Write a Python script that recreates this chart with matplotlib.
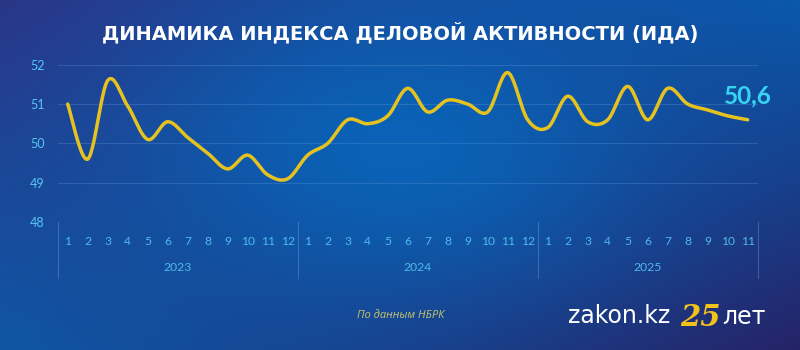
import numpy as np
import matplotlib
matplotlib.use("Agg")
import matplotlib.pyplot as plt

# ---------------- data ----------------
years = ["2023", "2024", "2025"]
months_per_year = [12, 12, 11]
month_labels = [str(m) for m in range(1, 13)] + [str(m) for m in range(1, 13)] + [str(m) for m in range(1, 12)]
ida_2023 = [51.0, 49.6, 51.6, 50.95, 50.1, 50.55, 50.15, 49.75, 49.35, 49.7, 49.2, 49.1]
ida_2024 = [49.7, 50.0, 50.6, 50.5, 50.7, 51.4, 50.8, 51.1, 51.0, 50.8, 51.8, 50.6]
ida_2025 = [50.4, 51.2, 50.55, 50.6, 51.45, 50.6, 51.4, 51.0, 50.85, 50.7, 50.6]
last_label = "50,6"
y_ticks = [48, 49, 50, 51, 52]
title = "ДИНАМИКА ИНДЕКСА ДЕЛОВОЙ АКТИВНОСТИ (ИДА)"
source = "По данным НБРК"

values = np.array(ida_2023 + ida_2024 + ida_2025, dtype=float)
xpos = np.arange(1, len(values) + 1, dtype=float)


def catmull_rom(x, y, n=24):
    px = np.concatenate([[x[0]], x, [x[-1]]])
    py = np.concatenate([[y[0]], y, [y[-1]]])
    xs, ys = [], []
    t = np.linspace(0, 1, n, endpoint=False)
    for i in range(1, len(px) - 2):
        for arr, out in ((px, xs), (py, ys)):
            p0, p1, p2, p3 = arr[i - 1], arr[i], arr[i + 1], arr[i + 2]
            m1 = (p2 - p0) / 2.0
            m2 = (p3 - p1) / 2.0
            h00 = 2 * t**3 - 3 * t**2 + 1
            h10 = t**3 - 2 * t**2 + t
            h01 = -2 * t**3 + 3 * t**2
            h11 = t**3 - t**2
            out.append(h00 * p1 + h10 * m1 + h01 * p2 + h11 * m2)
    xs.append([x[-1]])
    ys.append([y[-1]])
    return np.concatenate(xs), np.concatenate(ys)


W, H = 800, 350
fig = plt.figure(figsize=(W / 100, H / 100), dpi=100)

# ---------------- background gradient ----------------
bg = fig.add_axes([0, 0, 1, 1], zorder=-10)
gx, gy = np.meshgrid(np.linspace(0, 1, 400), np.linspace(0, 1, 175))
def c(h):
    return np.array([int(h[i:i + 2], 16) / 255 for i in (1, 3, 5)])
TL, TR, BL, BR = c("#2c3486"), c("#0a58ab"), c("#0f56a5"), c("#262266")
img = ((1 - gx)[..., None] * (1 - gy)[..., None] * TL + gx[..., None] * (1 - gy)[..., None] * TR
       + (1 - gx)[..., None] * gy[..., None] * BL + gx[..., None] * gy[..., None] * BR)
center = c("#0a62b6")
w = np.exp(-(((gx - 0.5) / 0.32) ** 2 + ((gy - 0.42) / 0.45) ** 2))[..., None]
img = img * (1 - w) + center * w
bg.imshow(np.clip(img, 0, 1), aspect="auto", extent=[0, 1, 1, 0], interpolation="bicubic")
bg.set_xlim(0, 1)
bg.set_ylim(1, 0)
bg.axis("off")

# ---------------- main axes ----------------
left_px, right_px = 57.7, 757.7
bottom_px, top_px = 222.0, 45.1
ax = fig.add_axes([left_px / W, 1 - bottom_px / H, (right_px - left_px) / W, (bottom_px - top_px) / H])
ax.set_facecolor("none")
ax.set_xlim(0.5, len(values) + 0.5)
ax.set_ylim(48, 52.5)
for s in ax.spines.values():
    s.set_visible(False)

tick_col = "#55c6f2"
ax.set_yticks(y_ticks)
ax.set_yticklabels([str(v) for v in y_ticks], fontsize=9, color=tick_col, family="Lato")
ax.tick_params(axis="y", length=0, pad=9.5)
for v in y_ticks[1:]:
    ax.axhline(v, color="#7fb4f0", lw=0.8, alpha=0.22, zorder=1)

ax.set_xticks(xpos)
ax.set_xticklabels(month_labels, fontsize=8.7, color=tick_col, family="Lato", alpha=0.9)
ax.tick_params(axis="x", length=0, pad=10)

# year separators and labels
trans = ax.get_xaxis_transform()
bounds = [0.5]
for n in months_per_year:
    bounds.append(bounds[-1] + n)
for b in bounds:
    ax.plot([b, b], [0, -0.315], transform=trans, color="#8fb8f0", lw=0.8, alpha=0.3,
            clip_on=False)
for i, yr in enumerate(years):
    ax.annotate(yr, xy=((bounds[i] + bounds[i + 1]) / 2, 0), xycoords=trans,
                xytext=(0, -33), textcoords="offset points", ha="center", va="center",
                fontsize=8.7, color=tick_col, family="Lato", alpha=0.9)

# line
sx, sy = catmull_rom(xpos, values)
ax.plot(sx, sy, color="#e6c21e", lw=2.5, solid_capstyle="round", zorder=5)

ax.annotate(last_label, xy=(xpos[-1], values[-1]), xytext=(0, 17.5), textcoords="offset points",
            ha="center", va="center", fontsize=17.5, fontweight="bold", color="#36d4f2",
            family="Lato")

# ---------------- texts ----------------
fig.text(0.5, 1 - 33 / H, title, ha="center", va="center", color="white", fontsize=14,
         fontweight="bold", family="DejaVu Sans")
fig.text(401 / W, 1 - 315 / H, source, ha="center", va="center", color="#c9c46a",
         fontsize=8, style="italic", family="Open Sans")
fig.text(568 / W, 1 - 316 / H, "zakon.kz", ha="left", va="center", color="white",
         fontsize=17, fontweight="normal", family="DejaVu Sans")
fig.text(700 / W, 1 - 317 / H, "25", ha="center", va="center", color="#f2c21a",
         fontsize=21, fontweight="bold", style="italic", family="DejaVu Serif")
fig.text(722 / W, 1 - 317 / H, "лет", ha="left", va="center", color="white",
         fontsize=17, fontweight="normal", family="DejaVu Sans")

fig.savefig("out.png", dpi=100)
